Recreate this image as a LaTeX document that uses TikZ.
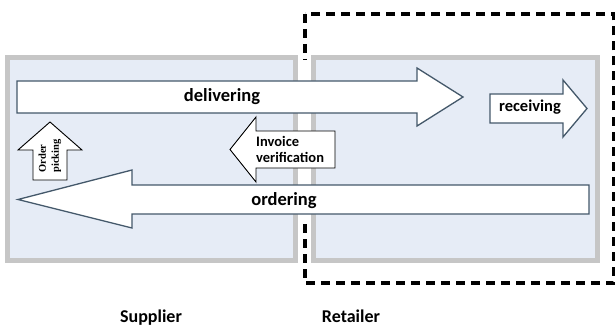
\documentclass[tikz,border=0pt]{standalone}
\usepackage{fontspec}
\setmainfont{Carlito}
\newfontfamily\serifbold{Liberation Serif}
\begin{document}
\begin{tikzpicture}[x=1pt,y=-1pt,
  panel/.style={draw=panelgray,line width=5pt,fill=panelblue},
  blockarrow/.style={draw=arrowline,line width=1.3pt,fill=white,line join=miter},
  smallarrow/.style={draw=black,line width=0.9pt,fill=white,line join=miter},
  lbl/.style={font=\bfseries\fontsize{18.5}{20}\selectfont,inner sep=0pt,anchor=base},
  boundary/.style={draw=black,line width=3.5pt,dash pattern=on 9pt off 6pt}]
\definecolor{panelgray}{HTML}{C6C6C6}
\definecolor{panelblue}{HTML}{E6ECF6}
\definecolor{arrowline}{HTML}{44586A}
\useasboundingbox (0,0) rectangle (615,326);
\fill[white] (0,0) rectangle (615,326);
% dashed retailer boundary
\draw[boundary] (305,14) rectangle (613.5,283);
% white gap between panels
\fill[white] (298,60) rectangle (311,222);
% panels
\draw[panel] (7.5,57.5) rectangle (295.5,260.5);
\draw[panel] (313.5,57.5) rectangle (597.5,260.5);
% delivering arrow
\draw[blockarrow] (17,81) -- (417,81) -- (417,68) -- (463,97) -- (417,126) -- (417,113) -- (17,113) -- cycle;
\node[lbl] (delivering) at (222,102) {delivering};
% receiving arrow
\draw[blockarrow] (490,94) -- (563,94) -- (563,80) -- (587,108.5) -- (563,137) -- (563,123) -- (490,123) -- cycle;
\node[lbl,font=\bfseries\fontsize{16.5}{18}\selectfont] (receiving) at (530,112) {receiving};
% order picking arrow
\draw[smallarrow] (33,180) -- (33,150) -- (18,150) -- (50,122) -- (82,150) -- (67,150) -- (67,180) -- cycle;
\node[rotate=90,align=left,inner sep=0pt,font=\serifbold\bfseries\fontsize{10.5}{13}\selectfont] (picking) at (50,156) {Order\\picking};
% invoice verification arrow
\draw[smallarrow] (335,131) -- (256,131) -- (256,117) -- (230,149.5) -- (256,182) -- (256,168) -- (335,168) -- cycle;
\node[anchor=west,align=left,inner sep=0pt,font=\bfseries\fontsize{14.5}{16}\selectfont] (invoice) at (256,149.5) {Invoice\\verification};
% ordering arrow
\draw[blockarrow] (589,185) -- (132,185) -- (132,170) -- (18,199.5) -- (132,228) -- (132,214) -- (589,214) -- cycle;
\node[lbl] (ordering) at (284,205) {ordering};
% captions
\node[lbl,font=\bfseries\fontsize{18}{20}\selectfont] (supplier) at (151,322) {Supplier};
\node[lbl,font=\bfseries\fontsize{18}{20}\selectfont] (retailer) at (351,322) {Retailer};
\end{tikzpicture}
\end{document}
